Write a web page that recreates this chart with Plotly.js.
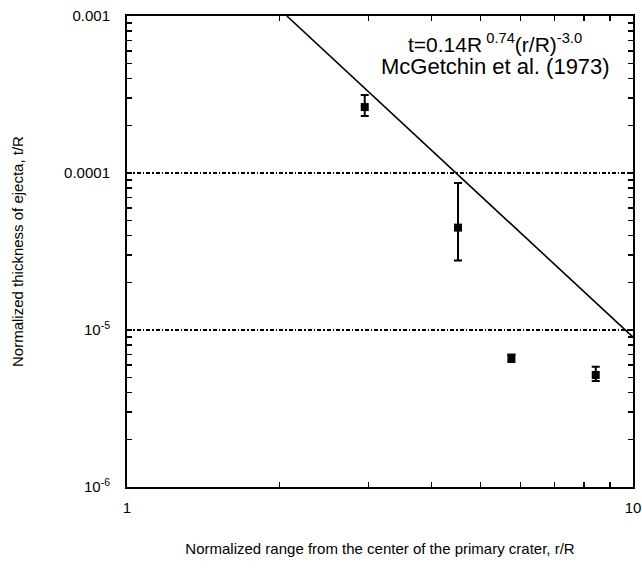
<!DOCTYPE html>
<html>
<head>
<meta charset="utf-8">
<script src="https://cdn.plot.ly/plotly-3.0.1.min.js"></script>
<style>html,body{margin:0;padding:0;background:#fff;}#chart{width:642px;height:568px;}</style>
</head>
<body>
<div id="chart"></div>
<script>
// Observed ejecta thickness data
const rangeR = [2.95, 4.51, 5.75, 8.44];
const thickness = [2.63e-4, 4.49e-5, 6.66e-6, 5.17e-6];
const errPlus = [0.51e-4, 4.14e-5, 0.3e-6, 0.66e-6];
const errMinus = [0.32e-4, 1.72e-5, 0.4e-6, 0.44e-6];

// McGetchin et al. (1973) relation, endpoints on the plot frame
const fitX = [2.07, 10];
const fitY = [1e-3, 9.0e-6];

// Axis ticks
const yMajorVals = [1e-6, 1e-5, 1e-4, 1e-3];
const yMajorText = ["10<sup>-6</sup>", "10<sup>-5</sup>", "0.0001", "0.001"];
const yMinorVals = [2e-6,3e-6,4e-6,5e-6,6e-6,7e-6,8e-6,9e-6,2e-5,3e-5,4e-5,5e-5,6e-5,7e-5,8e-5,9e-5,2e-4,3e-4,4e-4,5e-4,6e-4,7e-4,8e-4,9e-4];
const xMajorVals = [1, 10];
const xMajorText = ["1", "10"];
const xMinorVals = [2,3,4,5,6,7,8,9];

const font = "Liberation Sans, Arial, Helvetica, sans-serif";

const traces = [
  {
    x: fitX, y: fitY, mode: 'lines', type: 'scatter',
    line: {color: '#000', width: 1.6}, hoverinfo: 'skip', showlegend: false
  },
  {
    x: rangeR, y: thickness, mode: 'markers', type: 'scatter',
    marker: {symbol: 'square', size: 8, color: '#000'},
    error_y: {type: 'data', symmetric: false, array: errPlus, arrayminus: errMinus,
              color: '#000', thickness: 2, width: 4},
    showlegend: false
  }
];

const layout = {
  width: 642, height: 568,
  margin: {l: 127, r: 9, t: 16, b: 81},
  paper_bgcolor: '#fff', plot_bgcolor: '#fff',
  font: {family: font, color: '#000', size: 15},
  xaxis: {
    type: 'log', range: [0, 1],
    tickmode: 'array', tickvals: xMajorVals, ticktext: xMajorText,
    ticks: 'inside', ticklen: 5, tickwidth: 1.5, tickcolor: '#000',
    minor: {tickmode: 'array', tickvals: xMinorVals, ticks: 'inside', ticklen: 5, tickwidth: 1.5, tickcolor: '#000', showgrid: false},
    showline: true, linecolor: '#000', linewidth: 2, mirror: 'ticks',
    showgrid: false, zeroline: false,
    ticklabelstandoff: 6,
    tickfont: {size: 15},
    title: {text: 'Normalized range from the center of the primary crater, r/R', font: {size: 15}, standoff: 28}
  },
  yaxis: {
    type: 'log', range: [-6, -3],
    tickmode: 'array', tickvals: yMajorVals, ticktext: yMajorText,
    ticks: 'inside', ticklen: 5, tickwidth: 1.5, tickcolor: '#000',
    minor: {tickmode: 'array', tickvals: yMinorVals, ticks: 'inside', ticklen: 5, tickwidth: 1.5, tickcolor: '#000', showgrid: false},
    showline: true, linecolor: '#000', linewidth: 2, mirror: 'ticks',
    showgrid: true, gridcolor: '#000', gridwidth: 1.3, griddash: '4px,2px,1.5px,2px',
    zeroline: false,
    ticklabelstandoff: 12,
    tickfont: {size: 15},
    title: {text: 'Normalized thickness of ejecta, t/R', font: {size: 15}, standoff: 37}
  },
  annotations: [
    {xref: 'paper', yref: 'paper', x: 0.728, y: 0.942, xanchor: 'center', yanchor: 'middle',
     text: 't=0.14R<sup> 0.74</sup>(r/R)<sup>-3.0</sup>', showarrow: false, font: {size: 21}},
    {xref: 'paper', yref: 'paper', x: 0.728, y: 0.893, xanchor: 'center', yanchor: 'middle',
     text: 'McGetchin et al. (1973)', showarrow: false, font: {size: 22}}
  ]
};

Plotly.newPlot('chart', traces, layout, {displayModeBar: false, staticPlot: true});
</script>
</body>
</html>
